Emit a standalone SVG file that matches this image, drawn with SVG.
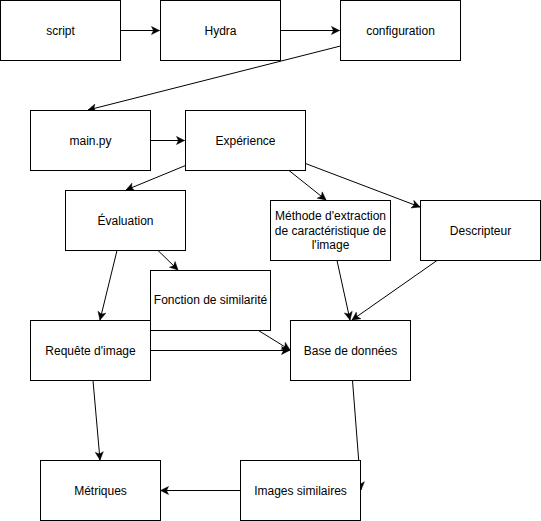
<svg xmlns="http://www.w3.org/2000/svg" width="541" height="521" viewBox="0 0 541 521">
  <style>
    .box { fill: #ffffff; stroke: #000000; stroke-width: 1; }
    .lbl { font-family: "Liberation Sans", Arial, Helvetica, sans-serif; font-size: 12px; fill: #000000; text-anchor: middle; dominant-baseline: central; }
    .edge { fill: none; stroke: #000000; stroke-width: 1; marker-end: url(#arrow); }
  </style>
  <defs>
    <marker id="arrow" markerUnits="userSpaceOnUse" markerWidth="9" markerHeight="9" refX="8" refY="4" orient="auto" overflow="visible">
      <path d="M0,0 L8,4 L0,8 L2,4 Z" fill="#000000" stroke="#000000" stroke-width="0.5"/>
    </marker>
  </defs>
  <rect width="541" height="521" fill="#ffffff"/>

  <!-- connectors (drawn under the boxes) -->
  <g id="connectors">
    <line class="edge" x1="120.5" y1="30.5" x2="159.5" y2="30.5"/>
    <line class="edge" x1="280.5" y1="30.5" x2="339.5" y2="30.5"/>
    <line class="edge" x1="340.5" y1="46" x2="88" y2="110"/>
    <line class="edge" x1="150.5" y1="140.5" x2="184.5" y2="140.5"/>
    <line class="edge" x1="185.5" y1="165.5" x2="126" y2="190"/>
    <line class="edge" x1="289" y1="170.5" x2="326" y2="200"/>
    <line class="edge" x1="305.5" y1="163.5" x2="420" y2="207"/>
    <line class="edge" x1="117" y1="250.5" x2="100" y2="320"/>
    <line class="edge" x1="158" y1="250.5" x2="178" y2="270"/>
    <line class="edge" x1="337" y1="260.5" x2="350" y2="320"/>
    <line class="edge" x1="437" y1="260.5" x2="352" y2="320"/>
    <line class="edge" x1="258.5" y1="330.5" x2="290" y2="350"/>
    <line class="edge" x1="150.5" y1="350.5" x2="289.5" y2="350.5"/>
    <line class="edge" x1="93" y1="380.5" x2="100" y2="460"/>
    <line class="edge" x1="352.5" y1="380.5" x2="361" y2="490"/>
    <line class="edge" x1="240.5" y1="490.5" x2="160.5" y2="490.5"/>
  </g>

  <g id="script">
    <rect class="box" x="0.5" y="0.5" width="120" height="60"/>
    <text class="lbl" x="60.5" y="30.5">script</text>
  </g>
  <g id="hydra">
    <rect class="box" x="160.5" y="0.5" width="120" height="60"/>
    <text class="lbl" x="220.5" y="30.5">Hydra</text>
  </g>
  <g id="configuration">
    <rect class="box" x="340.5" y="0.5" width="120" height="60"/>
    <text class="lbl" x="400.5" y="30.5">configuration</text>
  </g>
  <g id="main-py">
    <rect class="box" x="30.5" y="110.5" width="120" height="60"/>
    <text class="lbl" x="90.5" y="140.5">main.py</text>
  </g>
  <g id="experience">
    <rect class="box" x="185.5" y="110.5" width="120" height="60"/>
    <text class="lbl" x="245.5" y="140.5">Expérience</text>
  </g>
  <g id="evaluation">
    <rect class="box" x="65.5" y="190.5" width="120" height="60"/>
    <text class="lbl" x="125.5" y="220.5">Évaluation</text>
  </g>
  <g id="extraction">
    <rect class="box" x="270.5" y="200.5" width="120" height="60"/>
    <text class="lbl" x="330.5" y="216">Méthode d'extraction</text>
    <text class="lbl" x="330.5" y="230.5">de caractéristique de</text>
    <text class="lbl" x="330.5" y="245">l'image</text>
  </g>
  <g id="descripteur">
    <rect class="box" x="420.5" y="200.5" width="120" height="60"/>
    <text class="lbl" x="480.5" y="230.5">Descripteur</text>
  </g>
  <g id="similarite">
    <rect class="box" x="150.5" y="270.5" width="120" height="60"/>
    <text class="lbl" x="210.5" y="300">Fonction de similarité</text>
  </g>
  <g id="requete">
    <rect class="box" x="30.5" y="320.5" width="120" height="60"/>
    <text class="lbl" x="90.5" y="350.5">Requête d'image</text>
  </g>
  <g id="base">
    <rect class="box" x="290.5" y="320.5" width="120" height="60"/>
    <text class="lbl" x="350.5" y="350.5">Base de données</text>
  </g>
  <g id="metriques">
    <rect class="box" x="40.5" y="460.5" width="120" height="60"/>
    <text class="lbl" x="100.5" y="490.5">Métriques</text>
  </g>
  <g id="images-similaires">
    <rect class="box" x="240.5" y="460.5" width="120" height="60"/>
    <text class="lbl" x="300.5" y="490.5">Images similaires</text>
  </g>
</svg>
